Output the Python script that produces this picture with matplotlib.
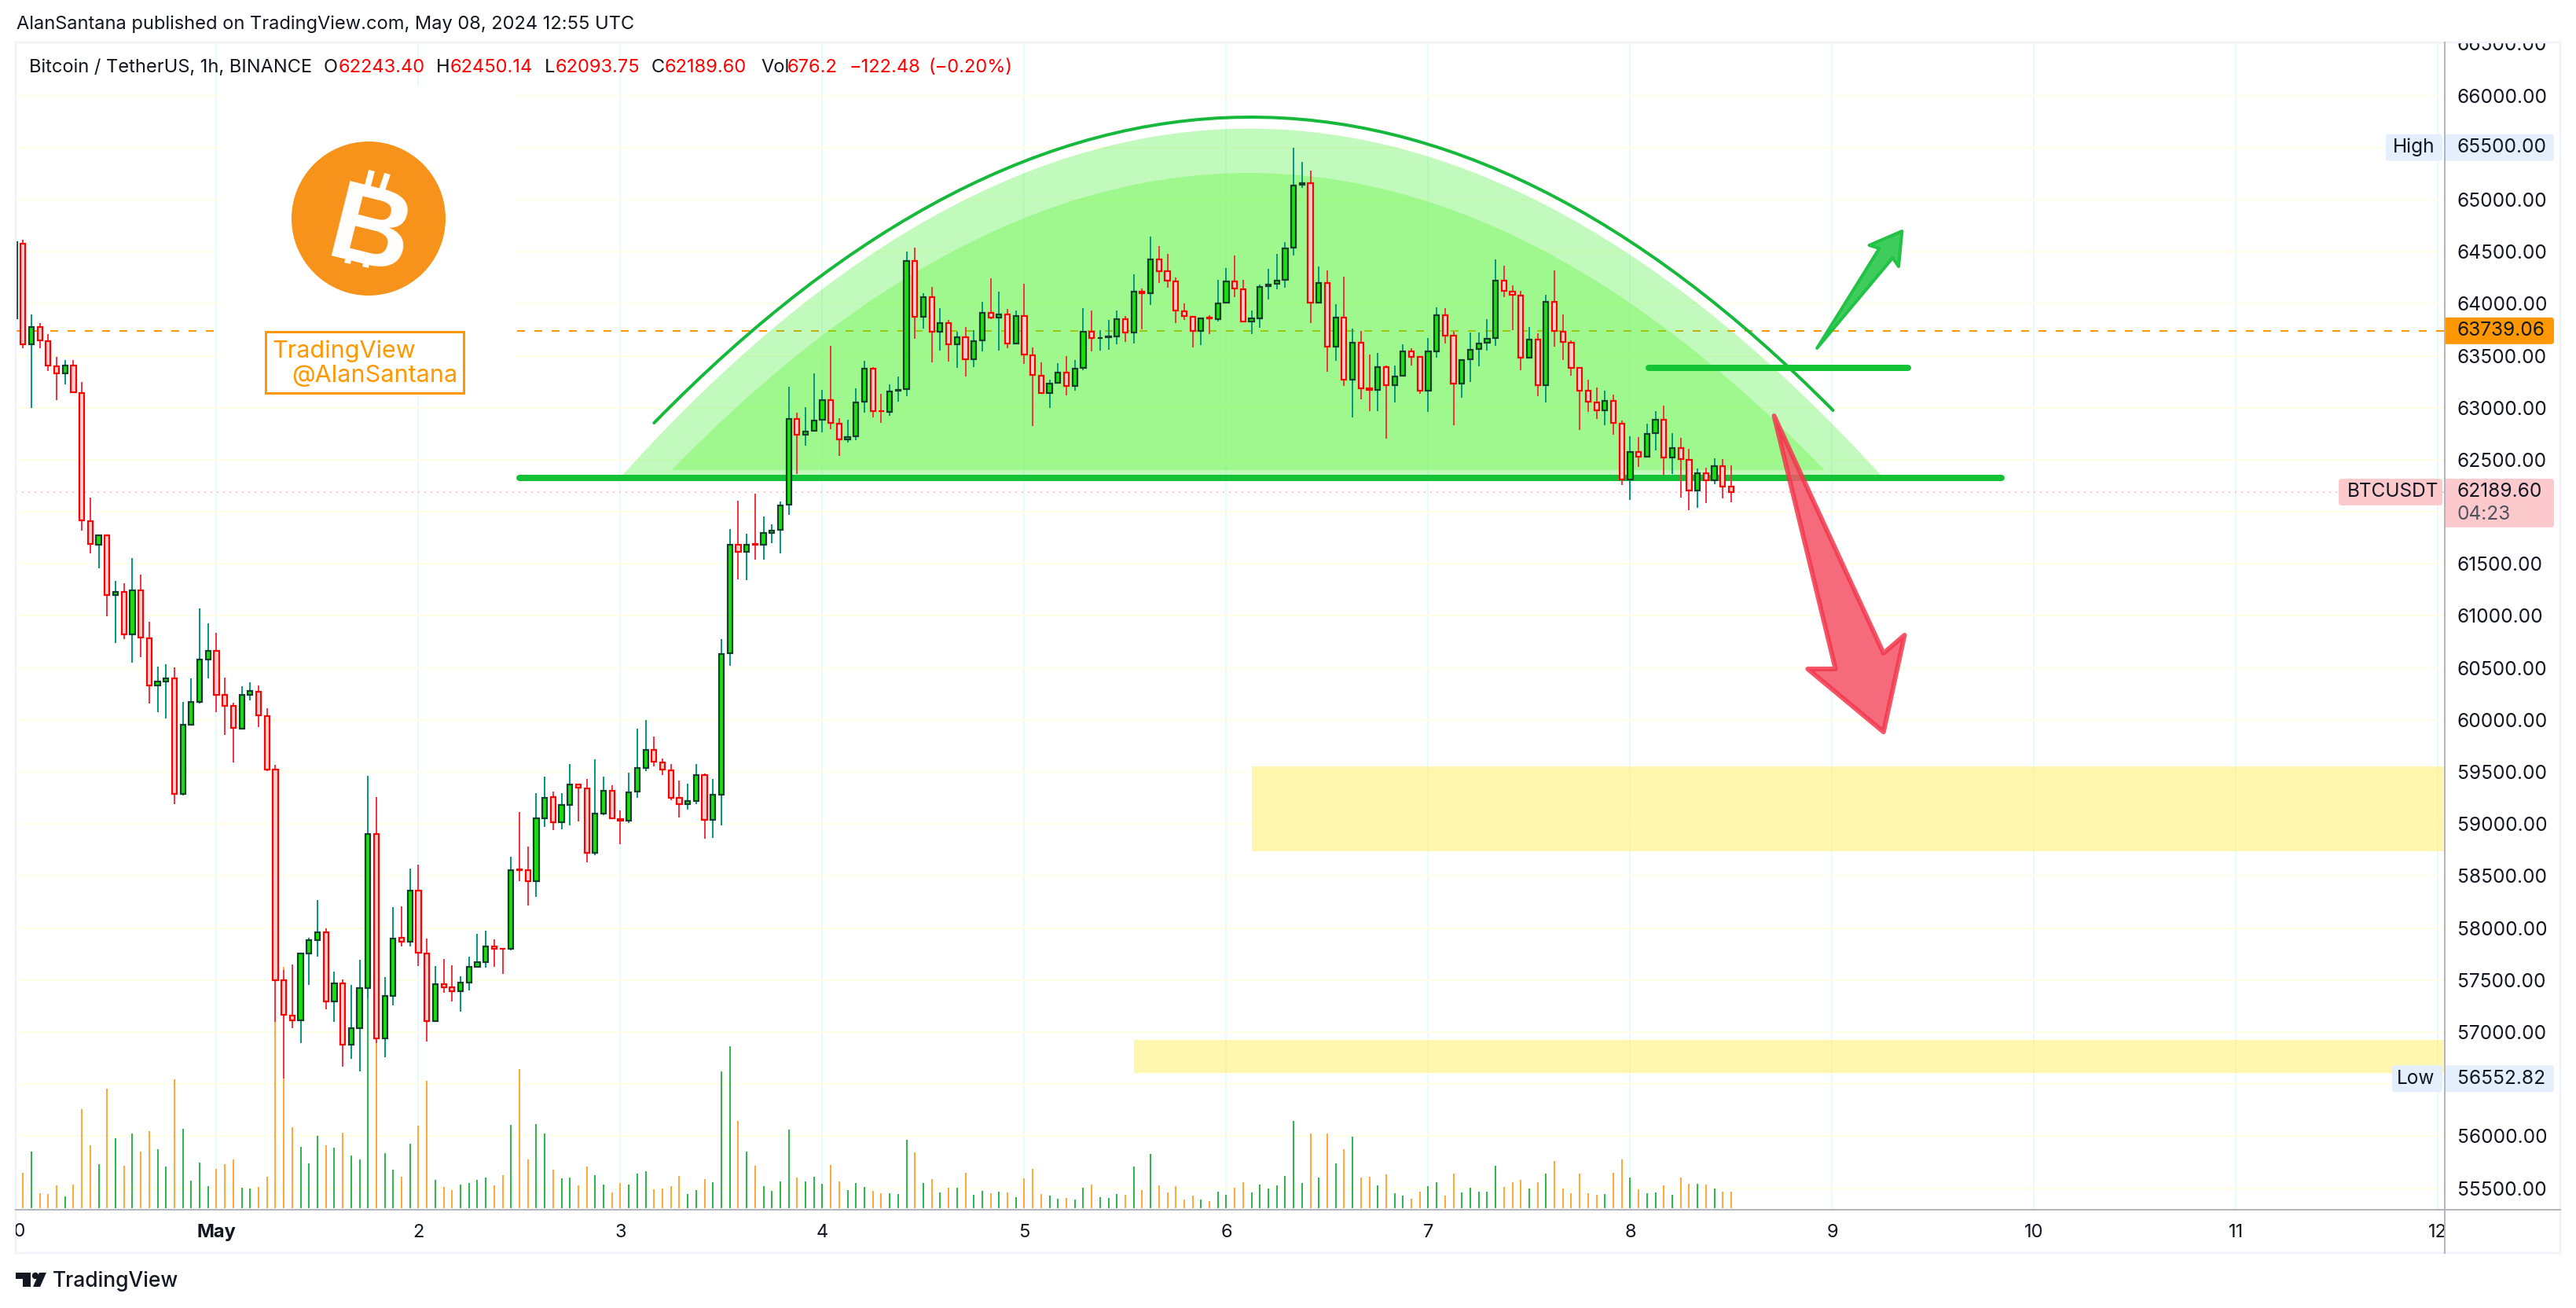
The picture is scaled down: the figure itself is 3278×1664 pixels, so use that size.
import numpy as np
import matplotlib

matplotlib.use("Agg")
import matplotlib.pyplot as plt
from matplotlib.patches import Circle, FancyBboxPatch, PathPatch, Polygon, Rectangle
from matplotlib.path import Path
from matplotlib.transforms import Bbox

plt.rcParams["font.family"] = ["Inter", "DejaVu Sans"]

# hourly bars, hour 0 = May 1 00:00
first_hour = -24

opens = [63860, 64579, 63612, 63777, 63638, 63400, 63330, 63407, 63141, 61908, 61685, 61774,
         61200, 61227, 60821, 61242, 60788, 60330, 60368, 60397, 59286, 59952, 60176, 60584,
         60667, 60239, 60135, 59918, 60239, 60272, 60039, 59523, 57497, 57159, 57113, 57758,
         57888, 57963, 57297, 57471, 56881, 57035, 57421, 58907, 56943, 57351, 57904, 57871,
         58358, 57759, 57110, 57459, 57434, 57397, 57480, 57625, 57675, 57825, 57804, 57800,
         58562, 58553, 58449, 59053, 59256, 59015, 59186, 59377, 59344, 58720, 59103, 59323,
         59048, 59032, 59310, 59535, 59714, 59594, 59519, 59248, 59190, 59219, 59473, 59040,
         59285, 60638, 61685, 61612, 61693, 61685, 61800, 61827, 62066, 62894, 62738, 62776,
         62881, 63075, 62849, 62693, 62723, 63055, 63378, 62970, 62957, 63165, 63176, 64412,
         63871, 64065, 63728, 63816, 63607, 63680, 63463, 63644, 63914, 63864, 63899, 63614,
         63884, 63506, 63310, 63138, 63236, 63340, 63206, 63380, 63733, 63667, 63680, 63682,
         63853, 63720, 64118, 64098, 64428, 64314, 64216, 63929, 63876, 63735, 63866, 63855,
         64007, 64216, 64139, 63826, 63861, 64166, 64189, 64227, 64537, 65141, 65160, 64007,
         64200, 63590, 63869, 63270, 63625, 63190, 63169, 63392, 63214, 63304, 63543, 63490,
         63161, 63545, 63890, 63694, 63235, 63463, 63561, 63622, 63667, 64224, 64118, 64081,
         63484, 63657, 63214, 64020, 63731, 63625, 63384, 63166, 63050, 62973, 63068, 62848,
         62308, 62575, 62528, 62756, 62886, 62520, 62613, 62501, 62202, 62371, 62302, 62440,
         62243.40]
closes = [64590, 63612, 63777, 63650, 63407, 63330, 63407, 63149, 61920, 61689, 61777, 61200,
          61227, 60821, 61242, 60792, 60330, 60368, 60397, 59286, 59952, 60176, 60584, 60667,
          60239, 60135, 59922, 60239, 60276, 60043, 59527, 57501, 57168, 57113, 57754, 57888,
          57963, 57297, 57471, 56881, 57035, 57421, 58907, 56943, 57351, 57900, 57871, 58358,
          57763, 57110, 57459, 57434, 57397, 57480, 57625, 57675, 57825, 57804, 57800, 58553,
          58553, 58449, 59053, 59252, 59015, 59186, 59377, 59348, 58720, 59103, 59323, 59053,
          59032, 59306, 59535, 59714, 59598, 59523, 59248, 59190, 59219, 59469, 59040, 59281,
          60634, 61685, 61612, 61685, 61685, 61797, 61820, 62063, 62894, 62738, 62773, 62879,
          63075, 62851, 62693, 62720, 63053, 63378, 62965, 62965, 63158, 63170, 64412, 63871,
          64065, 63728, 63816, 63607, 63680, 63463, 63642, 63914, 63864, 63899, 63614, 63884,
          63508, 63312, 63138, 63232, 63340, 63206, 63378, 63733, 63667, 63670, 63685, 63853,
          63720, 64118, 64100, 64428, 64314, 64219, 63931, 63879, 63735, 63858, 63860, 64004,
          64216, 64145, 63826, 63861, 64163, 64184, 64224, 64534, 65138, 65160, 64009, 64200,
          63590, 63869, 63270, 63625, 63190, 63169, 63392, 63214, 63299, 63543, 63492, 63161,
          63543, 63890, 63696, 63235, 63461, 63559, 63620, 63665, 64224, 64120, 64086, 63484,
          63657, 63214, 64020, 63736, 63630, 63386, 63166, 63055, 62973, 63068, 62851, 62308,
          62575, 62528, 62750, 62886, 62520, 62613, 62504, 62202, 62371, 62302, 62440, 62239,
          62189.60]
highs = [64620, 64613, 63893, 63816, 63708, 63488, 63461, 63457, 63246, 62140, 61785, 61774,
         61338, 61311, 61554, 61396, 60945, 60513, 60534, 60505, 60176, 60401, 61072, 60926,
         60838, 60405, 60168, 60322, 60363, 60330, 60114, 59565, 57596, 57650, 57754, 57908,
         58270, 58000, 57584, 57509, 57455, 57696, 59465, 59261, 57530, 58204, 58212, 58570,
         58612, 57900, 57634, 57704, 57642, 57538, 57725, 57946, 57975, 57892, 57804, 58686,
         59115, 58782, 59298, 59456, 59311, 59298, 59577, 59377, 59431, 59623, 59456, 59373,
         59132, 59494, 59918, 59997, 59839, 59631, 59577, 59419, 59385, 59577, 59485, 59431,
         60775, 61832, 62109, 61793, 62178, 61955, 61878, 62096, 63199, 62949, 63005, 63330,
         63171, 63594, 62899, 62884, 63186, 63450, 63388, 63133, 63224, 63300, 64500, 64538,
         64098, 64161, 63957, 63843, 63730, 63775, 63745, 64017, 64244, 64115, 63947, 63934,
         64191, 63579, 63435, 63269, 63428, 63496, 63458, 63957, 63934, 63745, 63843, 63934,
         63879, 64282, 64143, 64644, 64553, 64478, 64251, 64002, 63876, 63858, 63889, 64229,
         64346, 64460, 64229, 63932, 64181, 64335, 64478, 64592, 65500, 65360, 65279, 64354,
         64317, 63998, 64258, 63757, 63741, 63508, 63530, 63405, 63405, 63606, 63569, 63490,
         63670, 63964, 63956, 63731, 63469, 63723, 63723, 63850, 64425, 64364, 64176, 64120,
         63776, 63715, 64083, 64317, 63895, 63651, 63384, 63270, 63193, 63164, 63124, 62875,
         62724, 62719, 62846, 62970, 63018, 62753, 62711, 62602, 62419, 62427, 62517, 62504,
         62450.14]
lows = [63800, 63573, 63000, 63573, 63350, 63076, 63226, 63138, 61816, 61600, 61454, 60995,
        60738, 60780, 60547, 60600, 60160, 60076, 60014, 59190, 59277, 59952, 60160, 60401,
        60076, 59852, 59594, 59906, 60189, 59931, 59506, 57101, 56553, 57039, 56893, 57455,
        57725, 57222, 57101, 56668, 56743, 56623, 57326, 56893, 56760, 57259, 57825, 57825,
        57638, 56910, 57110, 57376, 57293, 57197, 57401, 57617, 57617, 57630, 57559, 57783,
        58449, 58216, 58300, 58974, 58940, 58949, 58986, 59024, 58632, 58703, 59082, 59053,
        58807, 59007, 59252, 59506, 59552, 59473, 59232, 59061, 59136, 59194, 58857, 58870,
        58986, 60522, 61350, 61342, 61539, 61539, 61696, 61597, 61970, 62363, 62637, 62776,
        62766, 62793, 62537, 62668, 62688, 62952, 62907, 62854, 62924, 63060, 63111, 63662,
        63760, 63435, 63549, 63443, 63383, 63300, 63390, 63541, 63851, 63549, 63571, 63614,
        63423, 62824, 63138, 62997, 63236, 63118, 63164, 63362, 63541, 63549, 63556, 63609,
        63632, 63617, 63753, 63987, 64198, 64153, 63813, 63843, 63579, 63604, 63707, 63829,
        64007, 64062, 63826, 63707, 63768, 64038, 64139, 64155, 64462, 65112, 63813, 64007,
        63347, 63453, 63212, 62909, 63079, 62968, 62968, 62703, 63052, 63304, 63408, 63135,
        62960, 63479, 63617, 62830, 63095, 63246, 63400, 63548, 63593, 64062, 63744, 63360,
        63474, 63111, 63052, 63585, 63458, 63307, 62785, 62960, 62891, 62830, 62742, 62260,
        62112, 62430, 62528, 62589, 62356, 62366, 62136, 62016, 62038, 62083, 62265, 62128,
        62093.75]
volumes = [120, 135, 216, 57, 54, 87, 45, 90, 378, 240, 168, 456,
           267, 162, 285, 216, 294, 225, 159, 492, 303, 105, 174, 84,
           150, 168, 186, 78, 75, 81, 120, 1070, 921, 309, 234, 171,
           276, 240, 231, 288, 201, 186, 840, 660, 210, 147, 120, 246,
           315, 486, 108, 81, 69, 90, 96, 108, 117, 87, 126, 318,
           531, 186, 321, 285, 147, 114, 117, 87, 159, 126, 90, 60,
           96, 90, 132, 141, 72, 75, 84, 123, 54, 69, 111, 99,
           522, 618, 333, 216, 162, 84, 66, 102, 300, 117, 102, 120,
           93, 165, 102, 69, 96, 81, 66, 57, 57, 54, 261, 213,
           96, 111, 60, 78, 78, 135, 51, 66, 57, 63, 60, 42,
           114, 150, 54, 48, 36, 39, 33, 78, 90, 42, 39, 54,
           51, 159, 69, 207, 87, 60, 84, 33, 48, 33, 27, 63,
           51, 78, 99, 60, 90, 75, 87, 123, 333, 96, 285, 117,
           285, 171, 225, 273, 117, 120, 87, 129, 57, 48, 36, 63,
           84, 99, 48, 132, 60, 78, 63, 63, 162, 81, 99, 108,
           75, 99, 132, 180, 75, 57, 132, 57, 51, 54, 135, 186,
           117, 72, 57, 60, 87, 51, 117, 93, 93, 90, 75, 63,
           63]

price_ticks = np.arange(55500, 66501, 500)
hidden_ticks = [56500, 62000, 65500]  # sit behind the Low, BTCUSDT and High tags
day_ticks = [0, 24, 48, 72, 96, 120, 144, 168, 192, 216, 240, 264]
day_labels = ["May", "2", "3", "4", "5", "6", "7", "8", "9", "10", "11", "12"]

last_price = 62189.60
high_price = 65500.00
low_price = 56552.82
marked_price = 63739.06

# drawings on the chart: (hour, price)
outer_dome = [(48.1, 62340), (122.6, 69032), (198.1, 62325)]
inner_dome = [(54.1, 62401), (122.8, 68111), (191.1, 62401)]
dome_line = [(52.0, 62854), (122.3, 68670), (192.1, 62975)]
base_line = [(36.0, 62328), (212.1, 62328)]
short_line = [(170.2, 63383), (201.0, 63383)]
up_arrow = [(190.2, 63572), (197.6, 64531), (196.4, 64561), (200.3, 64697), (199.9, 64357), (199.2, 64440)]
down_arrow = [(185.1, 62922), (192.4, 60490), (189.1, 60490), (198.1, 59885), (200.6, 60815), (198.1, 60641)]
upper_zone = (123.0, 58740, 59554)
lower_zone = (109.0, 56608, 56925)

W, H = 3278, 1664
PX = 0.72  # one pixel in points at dpi 100
left, right, top, bottom = 20, 3111, 54, 1539
DARK = "#131722"
AXIS_FS = 17.6

fig = plt.figure(figsize=(W / 100, H / 100), dpi=100, facecolor="white")
ax = fig.add_axes([left / W, 1 - bottom / H, (right - left) / W, (bottom - top) / H], facecolor="white")
ax.set_xlim(-23.86, 264.8)
ax.set_ylim(55293.6, 66510)
for s in ax.spines.values():
    s.set_visible(False)

ax.set_yticks(price_ticks)
ax.set_yticklabels(["" if p in hidden_ticks else f"{p:.2f}" for p in price_ticks], fontsize=AXIS_FS, color=DARK)
ax.yaxis.tick_right()
ax.set_xticks(day_ticks)
ax.set_xticklabels(day_labels, fontsize=17, color=DARK)
ax.get_xticklabels()[0].set_fontweight("bold")
ax.tick_params(axis="both", length=0)
ax.tick_params(axis="y", pad=11.5)
ax.tick_params(axis="x", pad=13)
# 66500 and 12 are cut by the panes
for lab in ax.get_yticklabels():
    lab.set_clip_on(True)
    lab.set_clip_box(Bbox([[0, 0], [W, H - top]]))
for lab in ax.get_xticklabels():
    lab.set_clip_on(True)
    lab.set_clip_box(Bbox([[0, 0], [right, H]]))
ax.set_axisbelow(True)
ax.grid(axis="y", color="#fffde8", lw=2 * PX)
ax.grid(axis="x", color="#e6fcfa", lw=2 * PX)

hours = first_hour + np.arange(len(opens))
o = np.array(opens)
c = np.array(closes)
hi = np.array(highs)
lo = np.array(lows)
vol = np.array(volumes)
up = c >= o

# volume
vol_frac = vol / 4455 + 0.00135
ax.vlines(hours[up], 0.00135, vol_frac[up], transform=ax.get_xaxis_transform(), color="#2cba4e", lw=2 * PX, zorder=2)
ax.vlines(hours[~up], 0.00135, vol_frac[~up], transform=ax.get_xaxis_transform(), color="#ffa93a", lw=2 * PX, zorder=2)

ax.axhline(last_price, color="#fbc9cc", lw=2 * PX, ls=(0, (1, 3)), zorder=2)
ax.axhline(marked_price, color="#ff9800", lw=2 * PX, ls=(0, (5, 6)), zorder=2)


def dome_path(pts):
    verts = list(pts) + [pts[0]]
    return Path(verts, [Path.MOVETO, Path.CURVE3, Path.CURVE3, Path.CLOSEPOLY])


ax.add_patch(PathPatch(dome_path(outer_dome), fc=(55 / 255, 238 / 255, 38 / 255, 0.3), ec="none", zorder=3))
ax.add_patch(PathPatch(dome_path(inner_dome), fc=(78 / 255, 247 / 255, 31 / 255, 0.3), ec="none", zorder=3.1))

for zone in (upper_zone, lower_zone):
    ax.add_patch(Rectangle((zone[0], zone[1]), 264.8 - zone[0], zone[2] - zone[1], fc="#fff06e", ec="none", alpha=0.55, zorder=3))

ax.add_patch(PathPatch(Path(dome_line, [Path.MOVETO, Path.CURVE3, Path.CURVE3]), fc="none", ec="#16b93c",
                       lw=4 * PX, capstyle="round", zorder=4))
for seg in (base_line, short_line):
    xs, ys = zip(*seg)
    ax.plot(xs, ys, color="#14c236", lw=8 * PX, solid_capstyle="round", zorder=4)

# candles
ax.vlines(hours[up], lo[up], hi[up], color="#089981", lw=2 * PX, zorder=5)
ax.vlines(hours[~up], lo[~up], hi[~up], color="#f23645", lw=2 * PX, zorder=5)
ax.bar(hours[up], (c - o)[up], bottom=o[up], width=0.58, fc="#16e10c", ec="#163d2e", lw=2.2 * PX, zorder=6)
ax.bar(hours[~up], (c - o)[~up], bottom=o[~up], width=0.58, fc="#fbcfd1", ec="#ff0000", lw=2.2 * PX, zorder=6)

ax.add_patch(Polygon(up_arrow, closed=True, fc="#3ecd5c", ec="#22c247", lw=4 * PX, joinstyle="round", zorder=7))
ax.add_patch(Polygon(down_arrow, closed=True, fc=(0.96, 0.34, 0.41, 0.88), ec=(0.95, 0.22, 0.30, 0.85), lw=6 * PX,
                     joinstyle="round", zorder=7))

# overlay in pixels for the page furniture
ov = fig.add_axes([0, 0, 1, 1], zorder=10)
ov.set_xlim(0, W)
ov.set_ylim(H, 0)
ov.axis("off")

ov.add_patch(Rectangle((280, 110), 376, 395, fc="white", ec="none"))
ov.add_patch(Rectangle((20, 54), 3238, 1540, fc="none", ec="#f0f3fa", lw=2.5 * PX))
ov.plot([right, right], [54, 1594], color="#b2b5be", lw=2 * PX)
ov.plot([20, 3258], [bottom, bottom], color="#b2b5be", lw=2 * PX)

# logo and signature
ov.add_patch(Circle((469, 278), 98, fc="#f7931a", ec="none"))
ov.text(470, 276, "B", color="white", fontsize=102, fontweight="bold", family="Liberation Sans", rotation=-14,
        ha="center", va="center_baseline")
for tick in ([(473, 217), (467, 240)], [(493, 221), (486, 242)], [(446, 318), (442, 335)], [(469, 322), (465, 340)]):
    xs, ys = zip(*tick)
    ov.plot(xs, ys, color="white", lw=8 * PX, solid_capstyle="butt")
ov.add_patch(Rectangle((338, 422), 252, 78, fc="white", ec="#ff9800", lw=3 * PX))
ov.text(346, 447, "TradingView", color="#ff9800", fontsize=22, va="center", ha="left")
ov.text(371, 478, "@AlanSantana", color="#ff9800", fontsize=22, va="center", ha="left")

# header and legend
ov.text(21, 31, "AlanSantana published on TradingView.com, May 08, 2024 12:55 UTC", color=DARK, fontsize=17, va="center")
legend_y = 86
for x, txt, col in [(37, "Bitcoin / TetherUS, 1h, BINANCE", DARK), (412, "O", DARK), (431, "62243.40", "#ff0000"),
                    (555, "H", DARK), (573, "62450.14", "#ff0000"), (693, "L", DARK), (707, "62093.75", "#ff0000"),
                    (829, "C", DARK), (846, "62189.60", "#ff0000"), (968, "Vol", DARK), (1002, "676.2", "#ff0000"),
                    (1081, "\u2212122.48", "#ff0000"), (1182, "(\u22120.20%)", "#ff0000")]:
    ov.text(x, legend_y, txt, color=col, fontsize=17, va="center")


def price_y(price):
    return 121.5 + (66000 - price) / 500 * 66.2


def tag(x0, x1, y0, y1, colour):
    ov.add_patch(FancyBboxPatch((x0, y0), x1 - x0, y1 - y0, boxstyle="round,pad=0,rounding_size=4", fc=colour, ec="none"))


for price, name, x0 in [(high_price, "High", 3036), (low_price, "Low", 3044)]:
    yc = price_y(price)
    tag(x0, 3108, yc - 17, yc + 17, "#e3effd")
    tag(3110, 3250, yc - 17, yc + 17, "#e3effd")
    ov.text(3098, yc, name, color=DARK, fontsize=AXIS_FS, va="center", ha="right")
    ov.text(3127, yc, f"{price:.2f}", color=DARK, fontsize=AXIS_FS, va="center")
yc = price_y(marked_price)
tag(3110, 3250, yc - 17, yc + 17, "#ff9800")
ov.text(3127, yc, f"{marked_price:.2f}", color=DARK, fontsize=AXIS_FS, va="center")
yc = price_y(last_price)
tag(2976, 3108, yc - 17, yc + 17, "#fcc9cc")
tag(3110, 3250, yc - 17, yc + 45, "#fcc9cc")
ov.text(2987, yc, "BTCUSDT", color=DARK, fontsize=AXIS_FS, va="center")
ov.text(3127, yc, f"{last_price:.2f}", color=DARK, fontsize=AXIS_FS, va="center")
ov.text(3127, yc + 29, "04:23", color="#50535e", fontsize=AXIS_FS, va="center")

lab30 = ov.text(18.5, 1567, "30", color=DARK, fontsize=17, va="center", ha="center")
lab30.set_clip_on(True)
lab30.set_clip_box(Bbox([[left, 0], [W, H]]))

# TradingView mark, bottom left
ov.add_patch(Polygon([(20, 1619), (39, 1619), (39, 1637), (29, 1637), (29, 1627), (20, 1627)], closed=True, fc=DARK, ec="none"))
ov.add_patch(Circle((45, 1623), 4.2, fc=DARK, ec="none"))
ov.add_patch(Polygon([(50, 1619), (59, 1619), (51, 1637), (42, 1637)], closed=True, fc=DARK, ec="none"))
ov.text(67, 1630, "TradingView", color=DARK, fontsize=19, va="center", fontweight="medium")

fig.savefig("out.png", dpi=100, facecolor="white")
